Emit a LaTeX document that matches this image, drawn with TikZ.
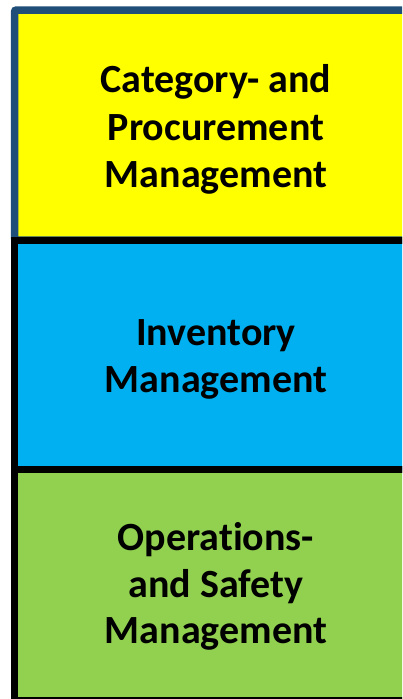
\documentclass[tikz,border=0pt]{standalone}
\usepackage{fontspec}
\setmainfont[RawFeature=-liga]{Carlito}
\definecolor{topfill}{HTML}{FFFF00}
\definecolor{midfill}{HTML}{00B0F0}
\definecolor{botfill}{HTML}{92D050}
\definecolor{topline}{HTML}{1F4E79}
\tikzset{
  layer/.style={line width=7pt},
  lbl/.style={anchor=base, inner sep=0pt, font=\fontsize{40}{48}\selectfont\bfseries, text=black}
}
\begin{document}
\begin{tikzpicture}[x=1pt,y=-1pt]
\useasboundingbox (0,0) rectangle (402,699);
\begin{scope}
\clip (0,0) rectangle (402,699);
\draw[layer, line width=7.5pt, draw=topline, fill=topfill, rounded corners=2pt] (14.5,10) rectangle (430,240);
\draw[layer, draw=black, fill=midfill] (14.5,240) rectangle (430,469.5);
\draw[layer, draw=black, fill=botfill] (14.5,469.5) rectangle (430,700);
\end{scope}
\node[lbl] (t1) at (216,92) {Category- and};
\node[lbl] (t2) at (216,140) {Procurement};
\node[lbl] (t3) at (216,187) {Management};
\node[lbl] (m1) at (216,345) {Inventory};
\node[lbl] (m2) at (216,392) {Management};
\node[lbl] (b1) at (216,550) {Operations-};
\node[lbl] (b2) at (216,597) {and Safety};
\node[lbl] (b3) at (216,643) {Management};
\end{tikzpicture}
\end{document}
